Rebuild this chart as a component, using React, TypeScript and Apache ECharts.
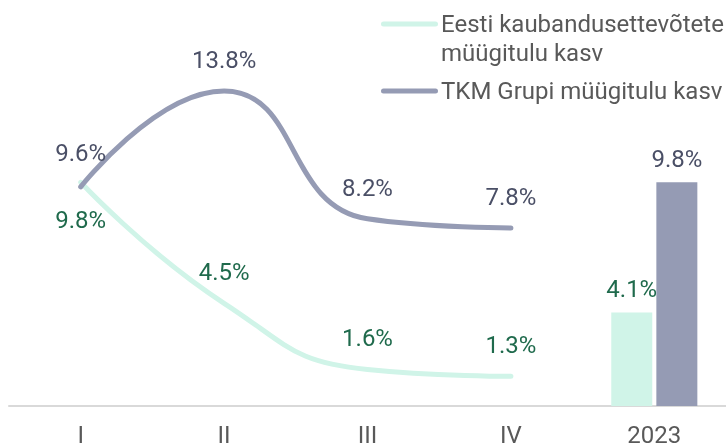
import React, { useEffect, useRef } from "react";
import * as echarts from "echarts";

const categories = ["I", "II", "III", "IV", "2023"];
const estiName = "Eesti kaubandusettevõtete\nmüügitulu kasv";
const tkmName = "TKM Grupi müügitulu kasv";
const estiQuarter = [9.8, 4.5, 1.6, 1.3];
const tkmQuarter = [9.6, 13.8, 8.2, 7.8];
const estiYear = 4.1;
const tkmYear = 9.8;

const GREEN = "#d0f4e8";
const BLUE = "#959bb4";
const GREEN_TXT = "#1f6a4c";
const BLUE_TXT = "#4a4f66";
const GRAY_TXT = "#595959";
const FONT = "Roboto";
const FS = 24;

export default function App() {
  const ref = useRef<HTMLDivElement>(null);
  useEffect(() => {
    if (!ref.current) return;
    const chart = echarts.init(ref.current, null, { renderer: "svg" });
    const pct = (p: any) => `${Number(p.value).toFixed(1)}%`;
    const lineLabel = (color: string) => ({
      show: true,
      position: "top",
      distance: 19,
      color,
      fontSize: FS,
      fontFamily: FONT,
      formatter: pct,
    });
    const estiLine: any[] = estiQuarter.map((v, i) =>
      i === 0
        ? { value: v, label: { position: "bottom", distance: 26 } }
        : v
    );
    estiLine.push("-");
    const tkmLine: any[] = tkmQuarter.map((v, i) =>
      i === 0 ? { value: v, label: { distance: 22 } } : v
    );
    tkmLine.push("-");
    const pad = (v: number) => ["-", "-", "-", "-", v];

    const legendFont = `${FS}px ${FONT}`;

    chart.setOption({
      animation: false,
      textStyle: { fontFamily: FONT },
      grid: { left: 9, right: 0, top: 18, bottom: 42, containLabel: false },
      graphic: [
        {
          type: "rect",
          x: 381,
          y: 21.5,
          shape: { width: 57, height: 5, r: 2.5 },
          style: { fill: GREEN },
        },
        {
          type: "text",
          x: 441,
          y: 9.5,
          style: {
            text: estiName,
            font: legendFont,
            lineHeight: 29,
            fill: GRAY_TXT,
            align: "left",
            verticalAlign: "top",
          },
        },
        {
          type: "rect",
          x: 381,
          y: 88.5,
          shape: { width: 57, height: 5, r: 2.5 },
          style: { fill: BLUE },
        },
        {
          type: "text",
          x: 441,
          y: 91,
          style: {
            text: tkmName,
            font: legendFont,
            fill: GRAY_TXT,
            align: "left",
            verticalAlign: "middle",
          },
        },
      ],
      xAxis: {
        type: "category",
        data: categories,
        boundaryGap: true,
        axisLine: { show: true, lineStyle: { color: "#d9d9d9", width: 2 } },
        axisTick: { show: false },
        axisLabel: {
          color: GRAY_TXT,
          fontSize: FS,
          fontFamily: FONT,
          margin: 17,
        },
      },
      yAxis: {
        type: "value",
        min: 0,
        max: 17,
        show: false,
        splitLine: { show: false },
      },
      series: [
        {
          name: estiName,
          type: "line",
          data: estiLine,
          smooth: true,
          symbol: "circle",
          symbolSize: 0,
          showSymbol: true,
          lineStyle: { color: GREEN, width: 5, cap: "round" },
          itemStyle: { color: GREEN },
          label: lineLabel(GREEN_TXT),
          z: 2,
        },
        {
          name: tkmName,
          type: "line",
          data: tkmLine,
          smooth: true,
          symbol: "circle",
          symbolSize: 0,
          showSymbol: true,
          lineStyle: { color: BLUE, width: 5, cap: "round" },
          itemStyle: { color: BLUE },
          label: lineLabel(BLUE_TXT),
          z: 3,
        },
        {
          name: estiName,
          type: "bar",
          data: pad(estiYear),
          barWidth: 41,
          barGap: "10%",
          itemStyle: { color: GREEN },
          label: {
            show: true,
            position: "top",
            distance: 11,
            color: GREEN_TXT,
            fontSize: FS,
            fontFamily: FONT,
            formatter: pct,
          },
        },
        {
          name: tkmName,
          type: "bar",
          data: pad(tkmYear),
          barWidth: 41,
          barGap: "10%",
          itemStyle: { color: BLUE },
          label: {
            show: true,
            position: "top",
            distance: 11,
            color: BLUE_TXT,
            fontSize: FS,
            fontFamily: FONT,
            formatter: pct,
          },
        },
      ],
    });
    return () => chart.dispose();
  }, []);
  return (
    <div
      ref={ref}
      style={{ position: "fixed", left: 0, top: 0, width: 726, height: 448 }}
    />
  );
}
